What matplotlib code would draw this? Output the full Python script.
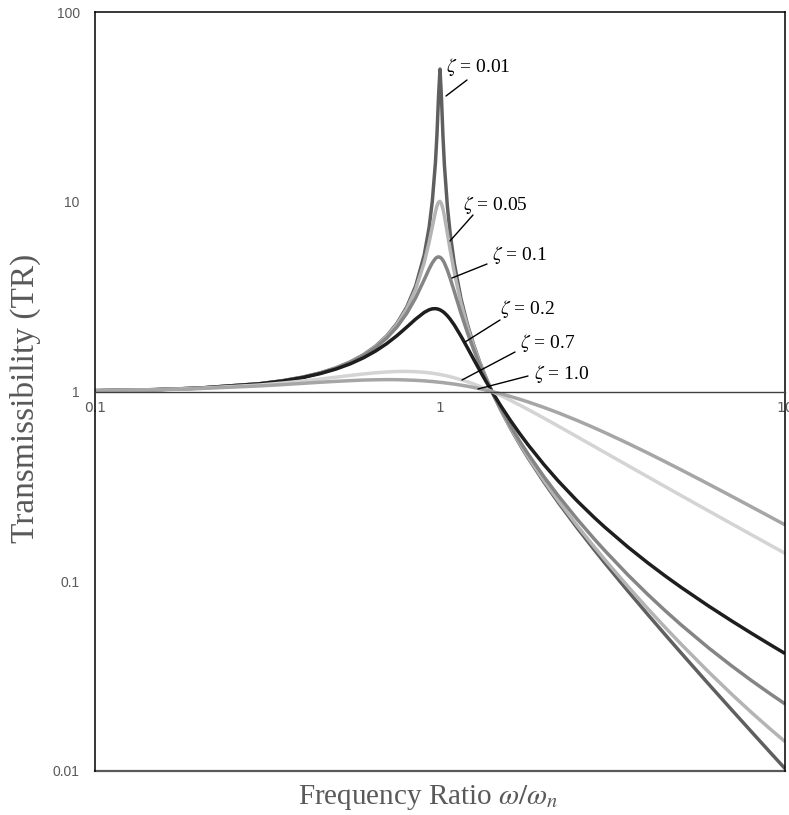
import matplotlib
matplotlib.use("Agg")
import matplotlib.pyplot as plt

# ---- data ----
freq_ratio = [0.1, 0.15, 0.2, 0.3, 0.35, 0.4, 0.45, 0.5, 0.55, 0.6, 0.65, 0.7, 0.75, 0.8,
              0.85, 0.9, 0.93, 0.95, 0.97, 0.98, 0.99, 1.0, 1.01, 1.02, 1.03, 1.05, 1.07,
              1.1, 1.15, 1.2, 1.25, 1.3, 1.35, 1.414, 1.5, 1.6, 1.7, 1.8, 2.0, 2.2, 2.5,
              2.8, 3.0, 3.5, 4.0, 4.5, 5.0, 6.0, 7.0, 8.0, 9.0, 10.0]

tr_z001 = [1.010, 1.023, 1.042, 1.099, 1.140, 1.190, 1.254, 1.333, 1.434, 1.562, 1.731, 1.960,
           2.284, 2.775, 3.597, 5.240, 7.333, 10.07, 16.08, 22.63, 35.62, 50.01, 35.09, 22.10,
           15.55, 9.558, 6.827, 4.736, 3.093, 2.269, 1.777, 1.448, 1.216, 1.000, 0.800, 0.6412,
           0.529, 0.4467, 0.3336, 0.2606, 0.1907, 0.1464, 0.1252, 0.0891, 0.06688, 0.05216,
           0.04188, 0.02878, 0.02104, 0.01608, 0.01270, 0.01030]
tr_z005 = [1.010, 1.023, 1.042, 1.099, 1.139, 1.190, 1.253, 1.332, 1.431, 1.559, 1.724, 1.947,
           2.259, 2.720, 3.458, 4.776, 6.123, 7.379, 8.845, 9.506, 9.951, 10.05, 9.760, 9.162,
           8.401, 6.852, 5.583, 4.244, 2.940, 2.208, 1.749, 1.436, 1.211, 1.000, 0.803, 0.6458,
           0.535, 0.4521, 0.3392, 0.2662, 0.1961, 0.1517, 0.1304, 0.09413, 0.07178, 0.05695,
           0.04658, 0.03332, 0.02543, 0.02033, 0.01682, 0.01428]
tr_z01 = [1.010, 1.023, 1.042, 1.099, 1.139, 1.189, 1.251, 1.328, 1.425, 1.547, 1.704, 1.909,
          2.186, 2.571, 3.117, 3.882, 4.425, 4.766, 5.023, 5.096, 5.123, 5.099, 5.026, 4.908,
          4.753, 4.373, 3.957, 3.367, 2.590, 2.052, 1.675, 1.401, 1.197, 1.000, 0.812, 0.6593,
          0.550, 0.4685, 0.3559, 0.2827, 0.2120, 0.1670, 0.1454, 0.1083, 0.08525, 0.06981,
          0.05888, 0.04460, 0.03583, 0.02994, 0.02573, 0.02258]
tr_z02 = [1.010, 1.023, 1.041, 1.097, 1.136, 1.184, 1.243, 1.314, 1.400, 1.505, 1.632, 1.785,
          1.968, 2.180, 2.407, 2.611, 2.696, 2.727, 2.733, 2.726, 2.713, 2.693, 2.666, 2.634,
          2.597, 2.509, 2.407, 2.241, 1.959, 1.704, 1.486, 1.305, 1.155, 1.000, 0.841, 0.7041,
          0.602, 0.5237, 0.4125, 0.3381, 0.2646, 0.2166, 0.1931, 0.1518, 0.1251, 0.1065,
          0.09285, 0.07411, 0.06184, 0.05315, 0.04666, 0.04161]
tr_z07 = [1.010, 1.022, 1.039, 1.082, 1.108, 1.135, 1.163, 1.190, 1.215, 1.237, 1.255, 1.267,
          1.275, 1.276, 1.272, 1.262, 1.254, 1.248, 1.241, 1.237, 1.233, 1.229, 1.225, 1.220,
          1.216, 1.207, 1.197, 1.181, 1.154, 1.126, 1.097, 1.067, 1.037, 1.000, 0.952, 0.8987,
          0.849, 0.8041, 0.7245, 0.6578, 0.5769, 0.5132, 0.4778, 0.4076, 0.3553, 0.3149,
          0.2828, 0.2350, 0.2011, 0.1757, 0.1561, 0.1404]
tr_z10 = [1.010, 1.021, 1.036, 1.070, 1.087, 1.104, 1.119, 1.131, 1.141, 1.149, 1.153, 1.155,
          1.154, 1.150, 1.145, 1.138, 1.132, 1.129, 1.125, 1.122, 1.120, 1.118, 1.116, 1.114,
          1.111, 1.106, 1.101, 1.094, 1.080, 1.066, 1.051, 1.036, 1.020, 1.000, 0.973, 0.9417,
          0.911, 0.8812, 0.8246, 0.7726, 0.7033, 0.6435, 0.6083, 0.5337, 0.4743, 0.4261,
          0.3865, 0.3254, 0.2807, 0.2466, 0.2199, 0.1983]

series_labels = ["0.01", "0.05", "0.1", "0.2", "0.7", "1.0"]
series_values = [tr_z001, tr_z005, tr_z01, tr_z02, tr_z07, tr_z10]
series_colors = ["#5f5f5f", "#b4b4b4", "#858585", "#1e1e1e", "#d4d4d4", "#a6a6a6"]

x_ticks = [0.1, 1, 10]
x_tick_labels = ["0.1", "1", "10"]
y_ticks = [0.01, 0.1, 1, 10, 100]
y_tick_labels = ["0.01", "0.1", "1", "10", "100"]

plt.rcParams["mathtext.fontset"] = "stix"

W, H = 789, 815
fig = plt.figure(figsize=(W / 100, H / 100), dpi=100)
L, T, R, B = 95, 12, 785, 771
ax = fig.add_axes([L / W, 1 - B / H, (R - L) / W, (B - T) / H])
ax.set_xscale("log")
ax.set_yscale("log")

for vals, col in zip(series_values, series_colors):
    ax.plot(freq_ratio, vals, color=col, lw=2.5, solid_joinstyle="round",
            solid_capstyle="butt")

ax.set_xlim(0.1, 10)
ax.set_ylim(0.01, 100)

ax.set_xticks(x_ticks)
ax.set_xticklabels(x_tick_labels)
ax.set_yticks(y_ticks)
ax.set_yticklabels(y_tick_labels)
ax.minorticks_off()
ax.tick_params(axis="x", length=0, pad=7, labelsize=10, labelcolor="#595959")
ax.tick_params(axis="y", length=0, pad=11, labelsize=10, labelcolor="#595959")
for lab in ax.get_xticklabels() + ax.get_yticklabels():
    lab.set_fontfamily("Liberation Sans")

ax.spines["bottom"].set_position(("data", 1))
ax.spines["bottom"].set_color("#404040")
ax.spines["bottom"].set_linewidth(1.0)
for s in ["left", "top", "right"]:
    ax.spines[s].set_color("black")
    ax.spines[s].set_linewidth(1.1)
ax.plot([0, 1], [0, 0], transform=ax.transAxes, color="#595959", lw=1.6, clip_on=False)

fig.text(25 / W, 1 - 398 / H, "Transmissibility (TR)", rotation=90, ha="center",
         va="center", fontsize=24, color="#595959", family="Liberation Serif")
fig.text(428 / W, 1 - 797 / H, r"Frequency Ratio $\omega/\omega_n$", ha="center",
         va="center", fontsize=21, color="#595959", family="Liberation Serif")

def fp(x, y):
    return (x / W, 1 - y / H)

# label left x, label center y, leader start, leader end (pixels)
ann = [
    ("0.01", (446, 67), (467, 80), (446, 96)),
    ("0.05", (463, 205), (473, 215), (450, 241)),
    ("0.1", (492, 255), (487, 264), (452, 278)),
    ("0.2", (500, 309), (500, 320), (465, 342)),
    ("0.7", (520, 343), (515, 352), (462, 380)),
    ("1.0", (534, 374), (528, 376), (478, 389)),
]
for lab, tpos, p0, p1 in ann:
    fig.text(*fp(*tpos), r"$\zeta$ = " + lab, ha="left", va="center", fontsize=14,
             color="black", family="Liberation Serif")
    ax.annotate("", xy=fp(*p1), xytext=fp(*p0), xycoords="figure fraction",
                textcoords="figure fraction",
                arrowprops=dict(arrowstyle="-", color="black", lw=1.0,
                                shrinkA=0, shrinkB=0))

fig.savefig("out.png", dpi=100)
